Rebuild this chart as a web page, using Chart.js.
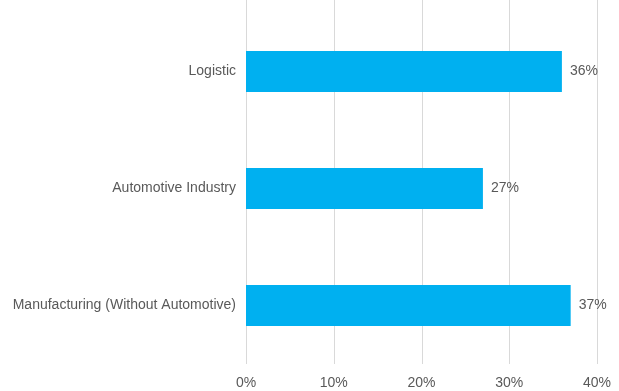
<!DOCTYPE html>
<html>
<head>
<meta charset="utf-8">
<script src="https://cdn.jsdelivr.net/npm/chart.js@4/dist/chart.umd.min.js"></script>
<style>
  html, body { margin: 0; padding: 0; background: #ffffff; }
  #wrap { width: 619px; height: 391px; position: relative; }
</style>
</head>
<body>
<div id="wrap"><canvas id="chart"></canvas></div>
<script>
// Share of respondents by sector
const categories = ['Logistic', 'Automotive Industry', 'Manufacturing (Without Automotive)'];
const shares = [36, 27, 37];
const tickValues = [0, 10, 20, 30, 40];

const TEXT = '#595959';
const GRID = '#d9d9d9';
const FONT = "'Liberation Sans', Arial, sans-serif";

// Vertical grid lines that run from the top edge of the canvas to the axis
const gridPlugin = {
  id: 'fullGrid',
  beforeDatasetsDraw(chart) {
    const { ctx, chartArea, scales } = chart;
    ctx.save();
    ctx.strokeStyle = GRID;
    ctx.lineWidth = 1;
    tickValues.forEach(v => {
      const x = Math.round(scales.x.getPixelForValue(v)) + 0.5;
      ctx.beginPath();
      ctx.moveTo(x, 0);
      ctx.lineTo(x, chartArea.bottom);
      ctx.stroke();
    });
    ctx.restore();
  }
};

// Percentage labels to the right of each bar
const valueLabels = {
  id: 'valueLabels',
  afterDatasetsDraw(chart) {
    const { ctx } = chart;
    const meta = chart.getDatasetMeta(0);
    ctx.save();
    ctx.font = '14px ' + FONT;
    ctx.fillStyle = TEXT;
    ctx.textAlign = 'left';
    ctx.textBaseline = 'middle';
    meta.data.forEach((bar, i) => {
      ctx.fillText(shares[i] + '%', bar.x + 8, bar.y);
    });
    ctx.restore();
  }
};

new Chart(document.getElementById('chart'), {
  type: 'bar',
  data: {
    labels: categories,
    datasets: [{
      data: shares,
      backgroundColor: '#00B0F0',
      borderWidth: 0,
      categoryPercentage: 1,
      barPercentage: 0.35
    }]
  },
  options: {
    indexAxis: 'y',
    responsive: true,
    maintainAspectRatio: false,
    animation: false,
    layout: { padding: { top: 13, right: 22, bottom: 0, left: 0 } },
    plugins: { legend: { display: false }, tooltip: { enabled: false } },
    scales: {
      x: {
        min: 0,
        max: 40,
        afterBuildTicks(scale) { scale.ticks = tickValues.map(v => ({ value: v })); },
        afterFit(scale) {
          scale.height = 27;
          scale.paddingLeft = 0;
          scale.paddingRight = 0;
        },
        grid: { display: false, drawTicks: false },
        border: { display: false },
        ticks: {
          padding: 11,
          color: TEXT,
          font: { family: FONT, size: 14 },
          callback: v => v + '%'
        }
      },
      y: {
        afterFit(scale) {
          scale.width = 246;
          scale.paddingTop = 0;
          scale.paddingBottom = 0;
        },
        grid: { display: false, drawTicks: false },
        border: { display: false },
        ticks: {
          padding: 10,
          color: TEXT,
          font: { family: FONT, size: 14 }
        }
      }
    }
  },
  plugins: [gridPlugin, valueLabels]
});
</script>
</body>
</html>
